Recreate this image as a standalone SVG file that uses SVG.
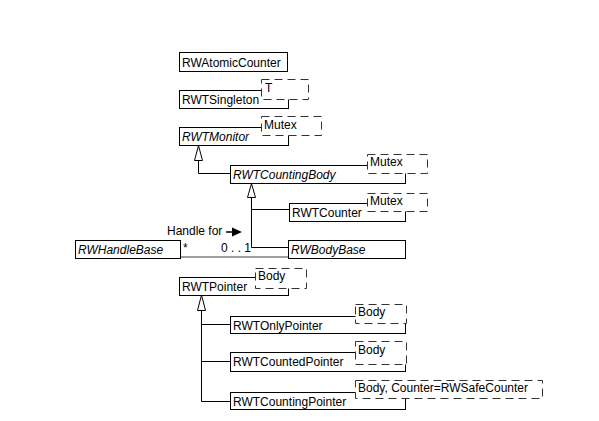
<svg xmlns="http://www.w3.org/2000/svg" width="599" height="421" viewBox="0 0 599 421">
<style>
  .box{fill:#fff;stroke:#000;stroke-width:1}
  .tpl{fill:#fff;stroke:#333;stroke-width:1;stroke-dasharray:8,5}
  .t{font-family:"Liberation Sans",Arial,sans-serif;font-size:12px;fill:#000}
  .i{font-style:italic}
  .ln{fill:none;stroke:#000;stroke-width:1}
  .tri{fill:#fff;stroke:#000;stroke-width:1}
</style>
<rect width="599" height="421" fill="#fff"/>

<g id="connectors">
  <path class="ln" d="M198.5,160.5 V173.5 H230"/>
  <polygon class="tri" points="198.5,145.5 194.5,160.5 202.5,160.5"/>
  <path class="ln" d="M251.5,197.5 V247.5 H288 M251.5,209.5 H289"/>
  <polygon class="tri" points="251.5,183.5 247.5,197.5 255.5,197.5"/>
  <path class="ln" d="M201.5,310.5 V401.5 H230 M201.5,324.5 H230 M201.5,361.5 H230"/>
  <polygon class="tri" points="201.5,295 197.5,310.5 205.5,310.5"/>
  <line x1="180" y1="257" x2="288" y2="257" stroke="#a0a0a0" stroke-width="2"/>
  <text class="t" x="183" y="252">*</text>
  <text class="t" x="221" y="252">0 . . 1</text>
  <text class="t" x="167" y="235">Handle for</text>
  <line x1="226" y1="232" x2="233" y2="232" stroke="#000" stroke-width="1.5"/>
  <polygon points="232,227.5 242,232 232,236.5" fill="#000"/>
</g>

<g id="RWAtomicCounter">
  <rect class="box" x="179.5" y="52.5" width="108" height="19"/>
  <text class="t" x="182" y="67">RWAtomicCounter</text>
</g>

<g id="RWTSingleton">
  <rect class="box" x="179.5" y="90.5" width="109" height="18"/>
  <text class="t" x="182" y="104">RWTSingleton</text>
  <rect class="tpl" x="261.5" y="79.5" width="47" height="20"/>
  <text class="t" x="265" y="92">T</text>
</g>

<g id="RWTMonitor">
  <rect class="box" x="179.5" y="127.5" width="109" height="18"/>
  <text class="t i" x="182" y="141">RWTMonitor</text>
  <rect class="tpl" x="261.5" y="116.5" width="60" height="19"/>
  <text class="t" x="264" y="129">Mutex</text>
</g>

<g id="RWTCountingBody">
  <rect class="box" x="230.5" y="165.5" width="175" height="18"/>
  <text class="t i" x="233" y="179">RWTCountingBody</text>
  <rect class="tpl" x="367.5" y="154.5" width="60" height="19"/>
  <text class="t" x="370" y="166">Mutex</text>
</g>

<g id="RWTCounter">
  <rect class="box" x="289.5" y="203.5" width="116" height="18"/>
  <text class="t" x="292" y="217">RWTCounter</text>
  <rect class="tpl" x="367.5" y="193.5" width="60" height="18"/>
  <text class="t" x="370" y="205">Mutex</text>
</g>

<g id="RWBodyBase">
  <rect class="box" x="288.5" y="240.5" width="117" height="18"/>
  <text class="t i" x="291" y="254">RWBodyBase</text>
</g>

<g id="RWHandleBase">
  <rect class="box" x="75.5" y="240.5" width="105" height="18"/>
  <text class="t i" x="78" y="254">RWHandleBase</text>
</g>

<g id="RWTPointer">
  <rect class="box" x="179.5" y="277.5" width="109" height="18"/>
  <text class="t" x="182" y="291">RWTPointer</text>
  <rect class="tpl" x="255.5" y="268.5" width="51" height="20"/>
  <text class="t" x="258" y="280">Body</text>
</g>

<g id="RWTOnlyPointer">
  <rect class="box" x="230.5" y="316.5" width="175" height="17"/>
  <text class="t" x="233" y="330">RWTOnlyPointer</text>
  <rect class="tpl" x="355.5" y="304.5" width="51" height="19"/>
  <text class="t" x="358" y="316">Body</text>
</g>

<g id="RWTCountedPointer">
  <rect class="box" x="230.5" y="352.5" width="175" height="19"/>
  <text class="t" x="233" y="366">RWTCountedPointer</text>
  <rect class="tpl" x="355.5" y="341.5" width="51" height="23"/>
  <text class="t" x="358" y="354">Body</text>
</g>

<g id="RWTCountingPointer">
  <rect class="box" x="230.5" y="392.5" width="175" height="17"/>
  <text class="t" x="233" y="406">RWTCountingPointer</text>
  <rect class="tpl" x="355.5" y="380.5" width="187" height="18"/>
  <text class="t" x="358" y="392">Body, Counter=RWSafeCounter</text>
</g>
</svg>
